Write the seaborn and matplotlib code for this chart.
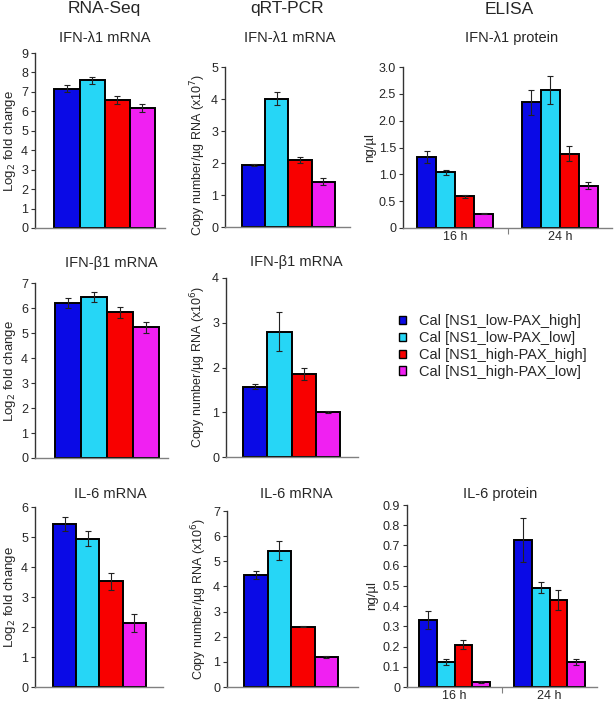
import matplotlib.pyplot as plt
import matplotlib.ticker as mticker
import pandas as pd
import seaborn as sns
from matplotlib.patches import Patch

sns.set_style("ticks")
plt.rcParams["font.family"] = ["Liberation Sans", "DejaVu Sans"]

conditions = ["Cal [NS1_low-PAX_high]", "Cal [NS1_low-PAX_low]",
              "Cal [NS1_high-PAX_high]", "Cal [NS1_high-PAX_low]"]
colors = ["#0a0ae6", "#26d6f6", "#f80000", "#f020f2"]
times = ["16 h", "24 h"]

# RNA-Seq (log2 fold change)
rnaseq_ifnl1 = [7.17, 7.60, 6.59, 6.16]
rnaseq_ifnl1_err = [0.20, 0.19, 0.20, 0.20]
rnaseq_ifnb1 = [6.20, 6.44, 5.83, 5.24]
rnaseq_ifnb1_err = [0.21, 0.20, 0.21, 0.22]
rnaseq_il6 = [5.44, 4.94, 3.52, 2.14]
rnaseq_il6_err = [0.23, 0.25, 0.27, 0.29]

# qRT-PCR (copy number / ug RNA)
qpcr_ifnl1 = [1.95, 4.01, 2.09, 1.42]      # x10^7
qpcr_ifnl1_err = [0.03, 0.20, 0.10, 0.11]
qpcr_ifnb1 = [1.57, 2.80, 1.86, 1.00]      # x10^6
qpcr_ifnb1_err = [0.06, 0.44, 0.14, 0.02]
qpcr_il6 = [4.45, 5.42, 2.39, 1.19]        # x10^6
qpcr_il6_err = [0.15, 0.38, 0.02, 0.03]

# ELISA (ng/ul)
elisa_ifnl1_16h = [1.32, 1.04, 0.59, 0.27]
elisa_ifnl1_16h_err = [0.11, 0.05, 0.03, 0.01]
elisa_ifnl1_24h = [2.34, 2.57, 1.385, 0.79]
elisa_ifnl1_24h_err = [0.24, 0.26, 0.14, 0.07]
elisa_il6_16h = [0.332, 0.124, 0.21, 0.025]
elisa_il6_16h_err = [0.045, 0.013, 0.022, 0.003]
elisa_il6_24h = [0.728, 0.49, 0.43, 0.124]
elisa_il6_24h_err = [0.11, 0.027, 0.048, 0.015]

palette = dict(zip(conditions, colors))
W, H = 615, 703
fig = plt.figure(figsize=(W / 100, H / 100), dpi=100)


def add_ax(left, top, right, bottom):
    return fig.add_axes([left / W, 1 - bottom / H, (right - left) / W, (bottom - top) / H])


def style(ax, ymax, step, fmt=None):
    sns.despine(ax=ax)
    ax.spines["left"].set_color("#333333")
    ax.spines["bottom"].set_color("#808080")
    ax.spines["left"].set_linewidth(1.0)
    ax.spines["bottom"].set_linewidth(1.0)
    ax.set_ylim(0, ymax)
    ax.yaxis.set_major_locator(mticker.MultipleLocator(step))
    if fmt:
        ax.yaxis.set_major_formatter(mticker.FuncFormatter(fmt))
    ax.tick_params(axis="y", direction="out", length=3, width=0.8, labelsize=9,
                   color="#333333", pad=2)
    ax.set_xlabel("")


def add_errorbars(ax, errors):
    bars = sorted(ax.patches, key=lambda p: p.get_x())
    for p, e in zip(bars, errors):
        ax.errorbar(p.get_x() + p.get_width() / 2, p.get_height(), yerr=e,
                    fmt="none", ecolor="#222222", elinewidth=0.8, capsize=2, capthick=0.8)


def mrna_panel(ax, values, errors, ymax, xlim):
    df = pd.DataFrame({"condition": conditions, "value": values})
    sns.barplot(data=df, x="condition", y="value", hue="condition", order=conditions,
                hue_order=conditions, palette=palette, saturation=1, width=1.0,
                errorbar=None, edgecolor="black", linewidth=1.4, legend=False, ax=ax)
    add_errorbars(ax, errors)
    style(ax, ymax, 1)
    ax.set_xlim(*xlim)
    ax.set_xticks([])


def elisa_panel(ax, v16, e16, v24, e24, ymax, width):
    df = pd.DataFrame({
        "time": [times[0]] * 4 + [times[1]] * 4,
        "condition": conditions * 2,
        "value": v16 + v24,
    })
    sns.barplot(data=df, x="time", y="value", hue="condition", order=times,
                hue_order=conditions, palette=palette, saturation=1, width=width,
                errorbar=None, edgecolor="black", linewidth=1.4, legend=False, ax=ax)
    add_errorbars(ax, e16 + e24)
    style(ax, ymax, 0.5 if ymax > 1 else 0.1,
          fmt=lambda v, _: "0" if abs(v) < 1e-9 else f"{v:.1f}")
    ax.set_xlim(-0.5, 1.5)
    ax.tick_params(axis="x", which="major", length=0, labelsize=9, pad=2)
    ax.set_xticks([0.5], minor=True)
    ax.tick_params(axis="x", which="minor", length=4, width=0.8, color="#808080")
    ax.set_ylabel("ng/\u00b5l", fontsize=9.5)


log2_label = "Log$_2$ fold change"
qpcr7_label = "Copy number/\u00b5g RNA (x10$^7$)"
qpcr6_label = "Copy number/\u00b5g RNA (x10$^6$)"

# Row 1
ax = add_ax(35, 53, 165, 228)
mrna_panel(ax, rnaseq_ifnl1, rnaseq_ifnl1_err, 9, (-1.27, 3.9))
ax.set_ylabel(log2_label, fontsize=9.5)
ax.yaxis.set_label_coords(-0.13, 0.5)

ax = add_ax(225, 67, 350, 227)
mrna_panel(ax, qpcr_ifnl1, qpcr_ifnl1_err, 5, (-1.23, 4.15))
ax.set_ylabel(qpcr7_label, fontsize=9)
ax.yaxis.set_label_coords(-0.14, 0.45)

ax = add_ax(403, 67, 612, 228)
elisa_panel(ax, elisa_ifnl1_16h, elisa_ifnl1_16h_err, elisa_ifnl1_24h,
            elisa_ifnl1_24h_err, 3.0, 0.73)
ax.yaxis.set_label_coords(-0.13, 0.5)

# Row 2
ax = add_ax(35, 283, 168, 458)
mrna_panel(ax, rnaseq_ifnb1, rnaseq_ifnb1_err, 7, (-1.27, 3.85))
ax.set_ylabel(log2_label, fontsize=9.5)
ax.yaxis.set_label_coords(-0.127, 0.5)

ax = add_ax(226, 278, 358, 457)
mrna_panel(ax, qpcr_ifnb1, qpcr_ifnb1_err, 4, (-1.2, 4.24))
ax.set_ylabel(qpcr6_label, fontsize=9)
ax.yaxis.set_label_coords(-0.135, 0.5)

# Row 3
ax = add_ax(35, 507, 163, 687)
mrna_panel(ax, rnaseq_il6, rnaseq_il6_err, 6, (-1.27, 4.23))
ax.set_ylabel(log2_label, fontsize=9.5)
ax.yaxis.set_label_coords(-0.13, 0.5)

ax = add_ax(227, 511, 358, 687)
mrna_panel(ax, qpcr_il6, qpcr_il6_err, 7, (-1.24, 4.35))
ax.set_ylabel(qpcr6_label, fontsize=9)
ax.yaxis.set_label_coords(-0.135, 0.5)

ax = add_ax(407, 505, 597, 687)
elisa_panel(ax, elisa_il6_16h, elisa_il6_16h_err, elisa_il6_24h,
            elisa_il6_24h_err, 0.9, 0.75)
ax.yaxis.set_label_coords(-0.15, 0.5)

# Column headers and panel titles
for label, x in [("RNA-Seq", 104), ("qRT-PCR", 287), ("ELISA", 509)]:
    fig.text(x / W, 1 - 9 / H, label, ha="center", va="center", fontsize=12.5)

titles = [
    ("IFN-\u03bb1 mRNA", 105, 38), ("IFN-\u03bb1 mRNA", 290, 38), ("IFN-\u03bb1 protein", 512, 38),
    ("IFN-\u03b21 mRNA", 111, 263), ("IFN-\u03b21 mRNA", 296, 262),
    ("IL-6 mRNA", 110, 494), ("IL-6 mRNA", 296, 494), ("IL-6 protein", 500, 494),
]
for label, x, y in titles:
    fig.text(x / W, 1 - y / H, label, ha="center", va="center", fontsize=10.5)

handles = [Patch(facecolor=c, edgecolor="black", linewidth=1.0, label=l)
           for c, l in zip(colors, conditions)]
fig.legend(handles=handles, loc="upper left", bbox_to_anchor=(399 / W, 1 - 314 / H),
           frameon=False, fontsize=10.5, handlelength=0.5, handleheight=0.5,
           handletextpad=0.9, labelspacing=0.2, borderpad=0, borderaxespad=0)

fig.savefig("out.png", dpi=100)
plt.close(fig)
